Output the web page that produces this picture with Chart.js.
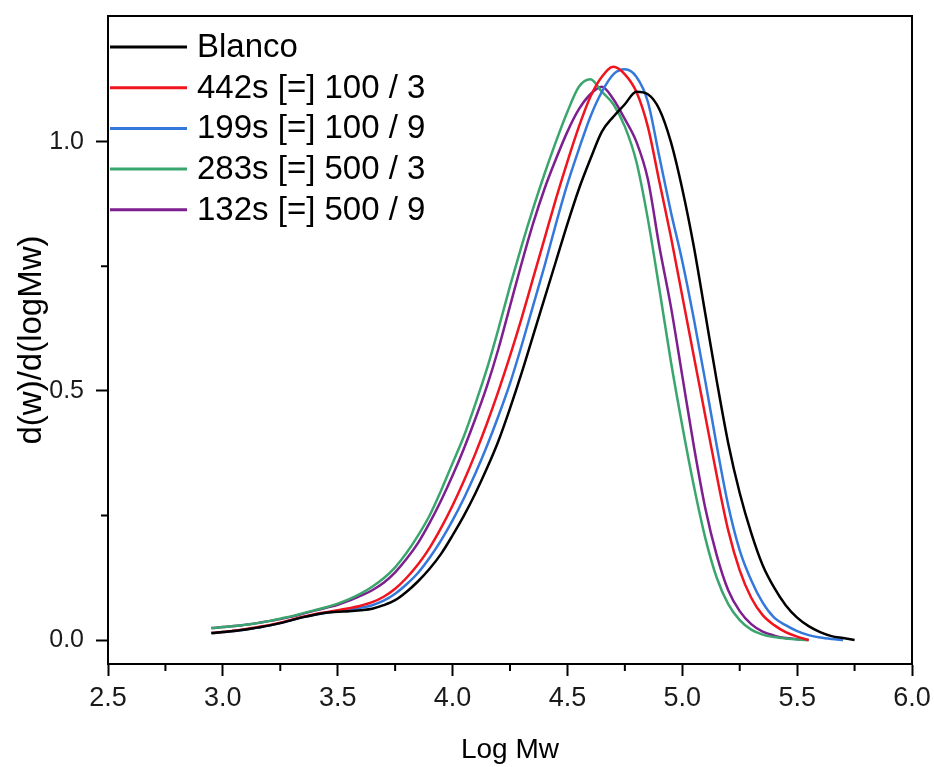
<!DOCTYPE html>
<html>
<head>
<meta charset="utf-8">
<script src="https://cdn.jsdelivr.net/npm/chart.js@4.4.1/dist/chart.umd.min.js"></script>
<style>
  html, body { margin: 0; padding: 0; background: #fff; }
  #wrap { width: 934px; height: 767px; }
</style>
</head>
<body>
<div id="wrap"><canvas id="gpc"></canvas></div>
<script>
// Log Mw grid (2.95 .. 5.75, every 0.05)
const logMw = [2.95, 3.00, 3.05, 3.10, 3.15, 3.20, 3.25, 3.30, 3.35, 3.40,
  3.45, 3.50, 3.55, 3.60, 3.65, 3.70, 3.75, 3.80, 3.85, 3.90,
  3.95, 4.00, 4.05, 4.10, 4.15, 4.20, 4.25, 4.30, 4.35, 4.40,
  4.45, 4.50, 4.55, 4.60, 4.65, 4.70, 4.75, 4.80, 4.85, 4.90,
  4.95, 5.00, 5.05, 5.10, 5.15, 5.20, 5.25, 5.30, 5.35, 5.40,
  5.45, 5.50, 5.55, 5.60, 5.65, 5.70, 5.75];

const seriesNames = ['Blanco', '442s [=] 100 / 3', '199s [=] 100 / 9', '283s [=] 500 / 3', '132s [=] 500 / 9'];
const seriesColors = ['#000000', '#f0141e', '#3478dc', '#3aa66e', '#7d1f8e'];

// d(w)/d(logMw)
const blanco = [0.014, 0.016, 0.018, 0.021, 0.025, 0.029, 0.034, 0.040, 0.046, 0.051,
  0.055, 0.057, 0.058, 0.060, 0.063, 0.070, 0.080, 0.097, 0.118, 0.143,
  0.173, 0.210, 0.250, 0.295, 0.345, 0.400, 0.465, 0.535, 0.610, 0.685,
  0.760, 0.835, 0.905, 0.965, 1.020, 1.050, 1.075, 1.100, 1.095, 1.065,
  1.000, 0.905, 0.790, 0.655, 0.520, 0.395, 0.295, 0.215, 0.150, 0.105,
  0.070, 0.045, 0.028, 0.016, 0.008, 0.004, 0.000];
const s442 = [0.014, 0.016, 0.019, 0.022, 0.026, 0.030, 0.035, 0.041, 0.047, 0.052,
  0.056, 0.060, 0.064, 0.069, 0.076, 0.087, 0.103, 0.125, 0.152, 0.185,
  0.225, 0.270, 0.320, 0.375, 0.435, 0.500, 0.570, 0.645, 0.725, 0.805,
  0.885, 0.960, 1.030, 1.090, 1.130, 1.150, 1.135, 1.100, 1.030, 0.920,
  0.810, 0.690, 0.570, 0.450, 0.330, 0.220, 0.140, 0.085, 0.050, 0.030,
  0.016, 0.007, 0.000];
const s199 = [0.014, 0.016, 0.018, 0.021, 0.025, 0.029, 0.034, 0.040, 0.046, 0.051,
  0.055, 0.058, 0.061, 0.065, 0.070, 0.079, 0.093, 0.112, 0.135, 0.165,
  0.200, 0.240, 0.285, 0.335, 0.390, 0.450, 0.515, 0.590, 0.670, 0.750,
  0.835, 0.915, 0.985, 1.050, 1.100, 1.135, 1.145, 1.130, 1.080, 0.970,
  0.860, 0.760, 0.645, 0.520, 0.390, 0.270, 0.180, 0.120, 0.075, 0.045,
  0.030, 0.018, 0.010, 0.005, 0.002, 0.000];
const s283 = [0.024, 0.026, 0.028, 0.031, 0.034, 0.038, 0.043, 0.048, 0.054, 0.060,
  0.066, 0.073, 0.082, 0.093, 0.107, 0.124, 0.146, 0.175, 0.210, 0.250,
  0.300, 0.355, 0.410, 0.475, 0.545, 0.625, 0.710, 0.790, 0.865, 0.935,
  1.000, 1.060, 1.110, 1.125, 1.100, 1.075, 1.030, 0.960, 0.845, 0.705,
  0.560, 0.430, 0.310, 0.205, 0.125, 0.072, 0.040, 0.021, 0.011, 0.006,
  0.003, 0.001, 0.000];
const s132 = [0.024, 0.026, 0.028, 0.031, 0.034, 0.038, 0.042, 0.047, 0.053, 0.059,
  0.065, 0.071, 0.079, 0.089, 0.100, 0.115, 0.136, 0.163, 0.195, 0.235,
  0.280, 0.330, 0.385, 0.445, 0.510, 0.585, 0.670, 0.755, 0.835, 0.905,
  0.965, 1.020, 1.065, 1.095, 1.110, 1.085, 1.045, 1.000, 0.925, 0.790,
  0.670, 0.530, 0.390, 0.265, 0.170, 0.100, 0.058, 0.032, 0.017, 0.009,
  0.004, 0.002, 0.000];

const seriesValues = [blanco, s442, s199, s283, s132];

const xTicks = [2.5, 3.0, 3.5, 4.0, 4.5, 5.0, 5.5, 6.0];
const xMinor = [2.75, 3.25, 3.75, 4.25, 4.75, 5.25, 5.75];
const yTicks = [0.0, 0.5, 1.0];
const yMinor = [0.25, 0.75];

const FONT = "'Liberation Sans', Arial, sans-serif";

const datasets = seriesNames.map((name, i) => ({
    label: name,
    data: seriesValues[i].map((v, j) => ({ x: logMw[j], y: v })),
    borderColor: seriesColors[i],
    borderWidth: 2.5,
    pointRadius: 0,
    cubicInterpolationMode: 'monotone',
    fill: false
}));

// frame, minor ticks and the in-plot legend
const extras = {
    id: 'extras',
    afterDraw(chart) {
        const ctx = chart.ctx;
        const a = chart.chartArea;
        const xs = chart.scales.x;
        const ys = chart.scales.y;
        ctx.save();
        ctx.strokeStyle = '#000';
        ctx.lineWidth = 2;
        ctx.strokeRect(a.left, a.top, a.right - a.left, a.bottom - a.top);

        ctx.beginPath();
        xMinor.forEach(v => {
            const px = xs.getPixelForValue(v);
            ctx.moveTo(px, a.bottom);
            ctx.lineTo(px, a.bottom + 7);
        });
        yMinor.forEach(v => {
            const py = ys.getPixelForValue(v);
            ctx.moveTo(a.left, py);
            ctx.lineTo(a.left - 7, py);
        });
        ctx.stroke();

        ctx.font = '33px ' + FONT;
        ctx.textBaseline = 'middle';
        ctx.textAlign = 'left';
        seriesNames.forEach((name, i) => {
            const y = a.top + 31 + i * 40.7;
            ctx.strokeStyle = seriesColors[i];
            ctx.lineWidth = 3;
            ctx.beginPath();
            ctx.moveTo(a.left + 2, y);
            ctx.lineTo(a.left + 79, y);
            ctx.stroke();
            ctx.fillStyle = '#000';
            ctx.fillText(name, a.left + 89, y + 1);
        });
        ctx.restore();
    }
};

new Chart(document.getElementById('gpc'), {
    type: 'line',
    data: { datasets: datasets },
    options: {
        responsive: true,
        maintainAspectRatio: false,
        animation: false,
        layout: { padding: { top: 16, right: 22, bottom: 0, left: 0 } },
        plugins: {
            legend: { display: false },
            tooltip: { enabled: false }
        },
        scales: {
            x: {
                type: 'linear',
                min: 2.5,
                max: 6.0,
                afterBuildTicks: s => { s.ticks = xTicks.map(v => ({ value: v })); },
                afterFit: s => { s.height = 103; s.paddingLeft = 0; s.paddingRight = 0; },
                border: { display: true, color: '#000', width: 2 },
                grid: { drawOnChartArea: false, tickLength: 12, tickColor: '#000', tickWidth: 2 },
                ticks: {
                    color: '#1a1a1a',
                    padding: 6,
                    maxRotation: 0,
                    font: { family: FONT, size: 27 },
                    callback: v => v.toFixed(1)
                },
                title: {
                    display: true,
                    text: 'Log Mw',
                    color: '#000',
                    padding: { top: 2, bottom: 0 },
                    font: { family: FONT, size: 28 }
                }
            },
            y: {
                type: 'linear',
                min: -0.048,
                max: 1.252,
                afterBuildTicks: s => { s.ticks = yTicks.map(v => ({ value: v })); },
                afterFit: s => { s.width = 108; s.paddingTop = 0; s.paddingBottom = 0; },
                border: { display: true, color: '#000', width: 2 },
                grid: { drawOnChartArea: false, tickLength: 12, tickColor: '#000', tickWidth: 2 },
                ticks: {
                    color: '#1a1a1a',
                    padding: 12,
                    font: { family: FONT, size: 25 },
                    callback: v => v.toFixed(1)
                },
                title: {
                    display: true,
                    text: 'd(w)/d(logMw)',
                    color: '#000',
                    padding: { top: 12, bottom: 0 },
                    font: { family: FONT, size: 33 }
                }
            }
        }
    },
    plugins: [extras]
});
</script>
</body>
</html>
